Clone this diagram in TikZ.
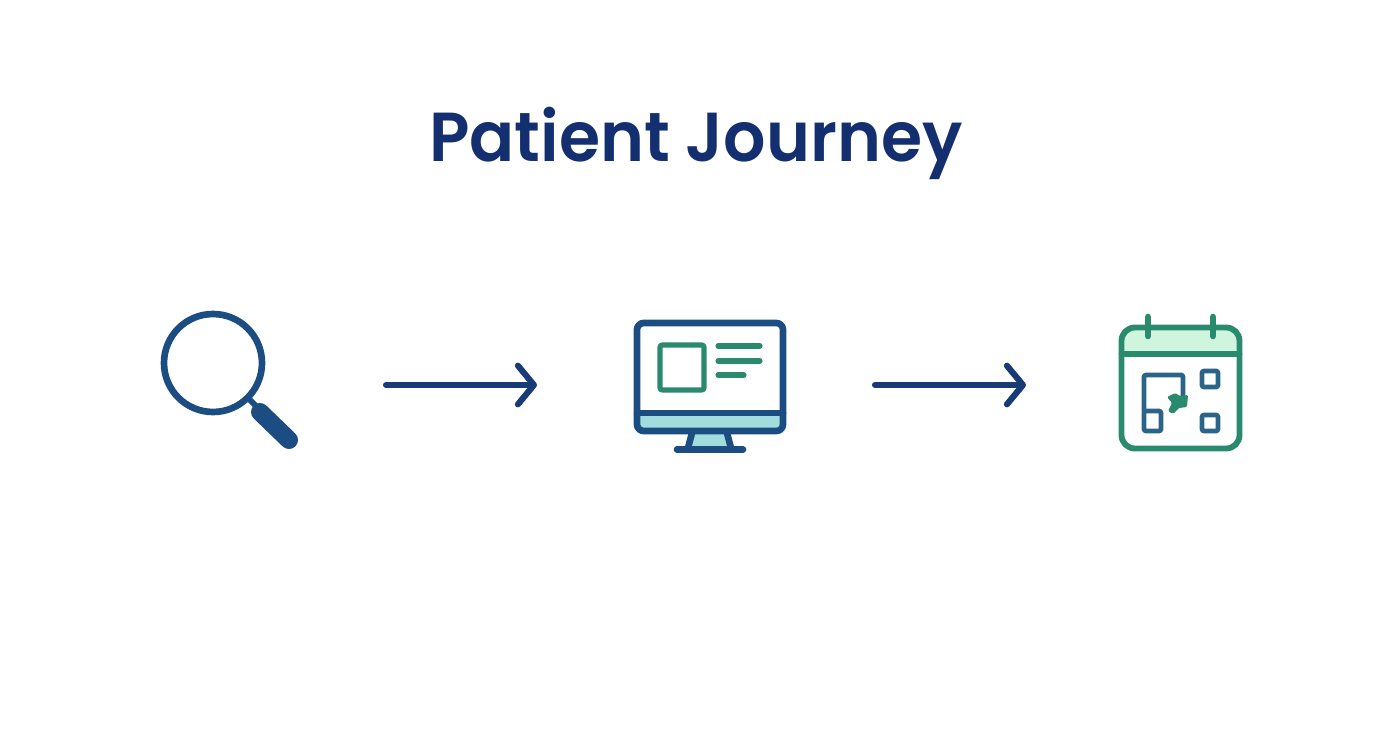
\documentclass[tikz,border=0pt]{standalone}
\usepackage{fontspec}
\setmainfont{Poppins Medium}[BoldFont=Poppins SemiBold, FakeStretch=0.96]
\usetikzlibrary{arrows.meta}
\definecolor{navyc}{HTML}{142F6F}
\definecolor{bluec}{HTML}{1B4C82}
\definecolor{arrowc}{HTML}{183A75}
\definecolor{greenc}{HTML}{2A8A6E}
\definecolor{steelc}{HTML}{2A6488}
\definecolor{tealc}{HTML}{A3DCDD}
\definecolor{mintc}{HTML}{CFF5DE}
\tikzset{
	flowarrow/.style={arrowc, line width=4.6pt, line cap=round, -{Straight Barb[length=12pt, width=29pt, line cap=round, line join=round]}},
	monitorline/.style={bluec, line width=5pt, line join=round, line cap=round},
	monitorgreen/.style={greenc, line width=3.8pt, line join=round, line cap=round},
	calgreen/.style={greenc, line width=4.4pt, line join=round, line cap=round},
	calblue/.style={steelc, line width=3.6pt, line join=round, line cap=round}
}
\begin{document}
\begin{tikzpicture}[x=0.75pt, y=-0.75pt]
	\useasboundingbox (0,0) rectangle (1392,752);
	
	% Title
	\node[navyc, font=\fontsize{52}{60}\selectfont\bfseries] (title) at (696,143) {Patient Journey};
	
	% Magnifying glass
	\draw[bluec, line width=5pt] (213,363) circle (49);
	\draw[bluec, line width=4.5pt] (248,398) -- (262,412);
	\draw[bluec, line width=13.5pt, line cap=round] (260,412) -- (289,440);
	
	% Arrows
	\coordinate (ArrowOneStart) at (386,385);
	\coordinate (ArrowOneEnd) at (537,385);
	\coordinate (ArrowTwoStart) at (875,385);
	\coordinate (ArrowTwoEnd) at (1026,385);
	\draw[flowarrow] (ArrowOneStart) -- (ArrowOneEnd);
	\draw[flowarrow] (ArrowTwoStart) -- (ArrowTwoEnd);
	
	% Monitor
	\fill[tealc] (637,413) rectangle (783,431);
	\fill[tealc] (692,433) -- (727,433) -- (731,448) -- (688,448) -- cycle;
	\draw[monitorline] (637,323) [rounded corners=5pt] -- (783,323) -- (783,431) -- (637,431) -- cycle;
	\draw[monitorline] (637,413) -- (783,413);
	\draw[monitorline] (692,433) -- (688,448);
	\draw[monitorline] (727,433) -- (731,448);
	\draw[monitorline] (677,449.5) -- (743,449.5);
	\draw[monitorgreen, rounded corners=1.5pt] (660,345) rectangle (704,390);
	\draw[monitorgreen] (718,346) -- (760,346);
	\draw[monitorgreen] (718,361) -- (760,361);
	\draw[monitorgreen] (718,375) -- (744,375);
	
	% Calendar
	\fill[mintc, rounded corners=8pt] (1121,354) -- (1121,328) -- (1239,328) -- (1239,354) -- cycle;
	\draw[calgreen, rounded corners=10pt] (1121.5,327.5) rectangle (1239.5,448.5);
	\draw[calgreen] (1121.5,354) -- (1239.5,354);
	\draw[calgreen, line width=5pt] (1148,317) -- (1148,336);
	\draw[calgreen, line width=5pt] (1213,317) -- (1213,336);
	
	% Calendar squares
	\draw[calblue, rounded corners=1.5pt] (1144,411) -- (1144,375) -- (1183,375) -- (1183,396);
	\draw[calblue, rounded corners=1.5pt] (1144,411) rectangle (1161,431);
	\draw[calblue, rounded corners=1.5pt] (1202,371) rectangle (1218,387);
	\draw[calblue, rounded corners=1.5pt] (1202,415) rectangle (1218,431);
	\fill[greenc, rounded corners=1pt] (1167,397) -- (1175,393) -- (1180,396) -- (1188,395) -- (1187,407) -- (1179,408) -- (1173,414) -- (1168,411) -- (1172,403) -- cycle;
\end{tikzpicture}
\end{document}
